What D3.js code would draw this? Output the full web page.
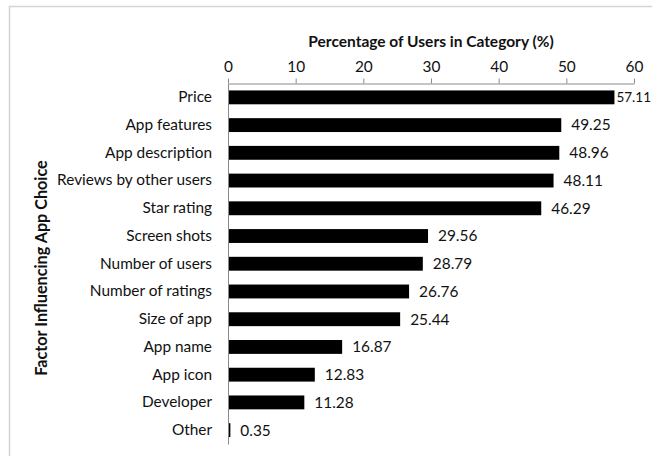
<!DOCTYPE html>
<html>
<head>
<meta charset="utf-8">
<script src="https://cdn.jsdelivr.net/npm/d3@7"></script>
<style>
  html, body { margin: 0; padding: 0; background: #fff; }
  svg { display: block; }
  text { font-family: Lato, "Open Sans", sans-serif; fill: #111; }
</style>
</head>
<body>
<svg id="chart" width="652" height="456"></svg>
<script>
// Survey factors, top to bottom, and share of users citing each (%)
const factors = [
  "Price", "App features", "App description", "Reviews by other users",
  "Star rating", "Screen shots", "Number of users", "Number of ratings",
  "Size of app", "App name", "App icon", "Developer", "Other"
];
const percentages = [
  57.11, 49.25, 48.96, 48.11, 46.29, 29.56, 28.79, 26.76,
  25.44, 16.87, 12.83, 11.28, 0.35
];
const xTicks = [0, 10, 20, 30, 40, 50, 60];
const xTitle = "Percentage of Users in Category (%)";
const yTitle = "Factor Influencing App Choice";

const svg = d3.select("#chart");
const W = 652, H = 456;
const fontSize = 15.4;

// chart frame
svg.append("rect")
  .attr("x", 9.5).attr("y", 6.5)
  .attr("width", W + 10).attr("height", H + 10)
  .attr("fill", "#fff")
  .attr("stroke", "#d4d4d4")
  .attr("stroke-width", 1.5);

const plot = { left: 228, right: 634, top: 83.5, bottom: 444 };

const x = d3.scaleLinear().domain([0, 60]).range([plot.left, plot.right]);
const y = d3.scaleBand().domain(factors)
  .range([plot.top, plot.bottom])
  .paddingInner(0.5).paddingOuter(0.25);

// bars
svg.append("g").selectAll("rect")
  .data(factors)
  .join("rect")
  .attr("x", x(0))
  .attr("y", (d) => y(d))
  .attr("width", (d, i) => x(percentages[i]) - x(0))
  .attr("height", y.bandwidth())
  .attr("fill", "#000");

// top value axis
const xAxis = svg.append("g")
  .attr("transform", `translate(0,${plot.top})`)
  .call(d3.axisTop(x).tickValues(xTicks).tickFormat(d3.format("d"))
    .tickSize(5).tickSizeOuter(0).tickPadding(7));
xAxis.select(".domain").attr("stroke", "#8a8a8a");
xAxis.selectAll(".tick line").attr("stroke", "#8a8a8a");
xAxis.selectAll(".tick text")
  .attr("font-family", "Lato, sans-serif")
  .attr("font-size", fontSize).attr("fill", "#111");

// category axis
const yAxis = svg.append("g")
  .attr("transform", `translate(${plot.left},0)`)
  .call(d3.axisLeft(y).tickSize(0).tickSizeOuter(0).tickPadding(16));
yAxis.select(".domain").attr("stroke", "#8a8a8a");
yAxis.selectAll(".tick text")
  .attr("font-family", "Lato, sans-serif")
  .attr("font-size", fontSize).attr("fill", "#111");

// value labels; one that would run past the frame sits tight to its bar
// and is shrunk until it fits
const labels = svg.append("g").selectAll("text")
  .data(factors)
  .join("text")
  .attr("x", (d, i) => x(percentages[i]) + 10)
  .attr("y", (d) => y(d) + y.bandwidth() / 2)
  .attr("dy", "0.35em")
  .attr("font-size", fontSize)
  .text((d, i) => percentages[i].toFixed(2));

labels.each(function (d, i) {
  const t = d3.select(this);
  if (+t.attr("x") + this.getComputedTextLength() > W - 1) {
    const x0 = x(percentages[i]) + 2;
    t.attr("x", x0);
    const w = this.getComputedTextLength();
    const room = W - 1 - x0;
    if (w > room) t.attr("font-size", fontSize * room / w);
  }
});

// axis titles
svg.append("text")
  .attr("x", (plot.left + plot.right) / 2)
  .attr("y", 47)
  .attr("text-anchor", "middle")
  .attr("font-weight", "bold")
  .attr("font-size", 15.5)
  .text(xTitle);

svg.append("text")
  .attr("transform", `translate(47,268) rotate(-90)`)
  .attr("text-anchor", "middle")
  .attr("font-weight", "bold")
  .attr("font-size", 16.2)
  .text(yTitle);
</script>
</body>
</html>
